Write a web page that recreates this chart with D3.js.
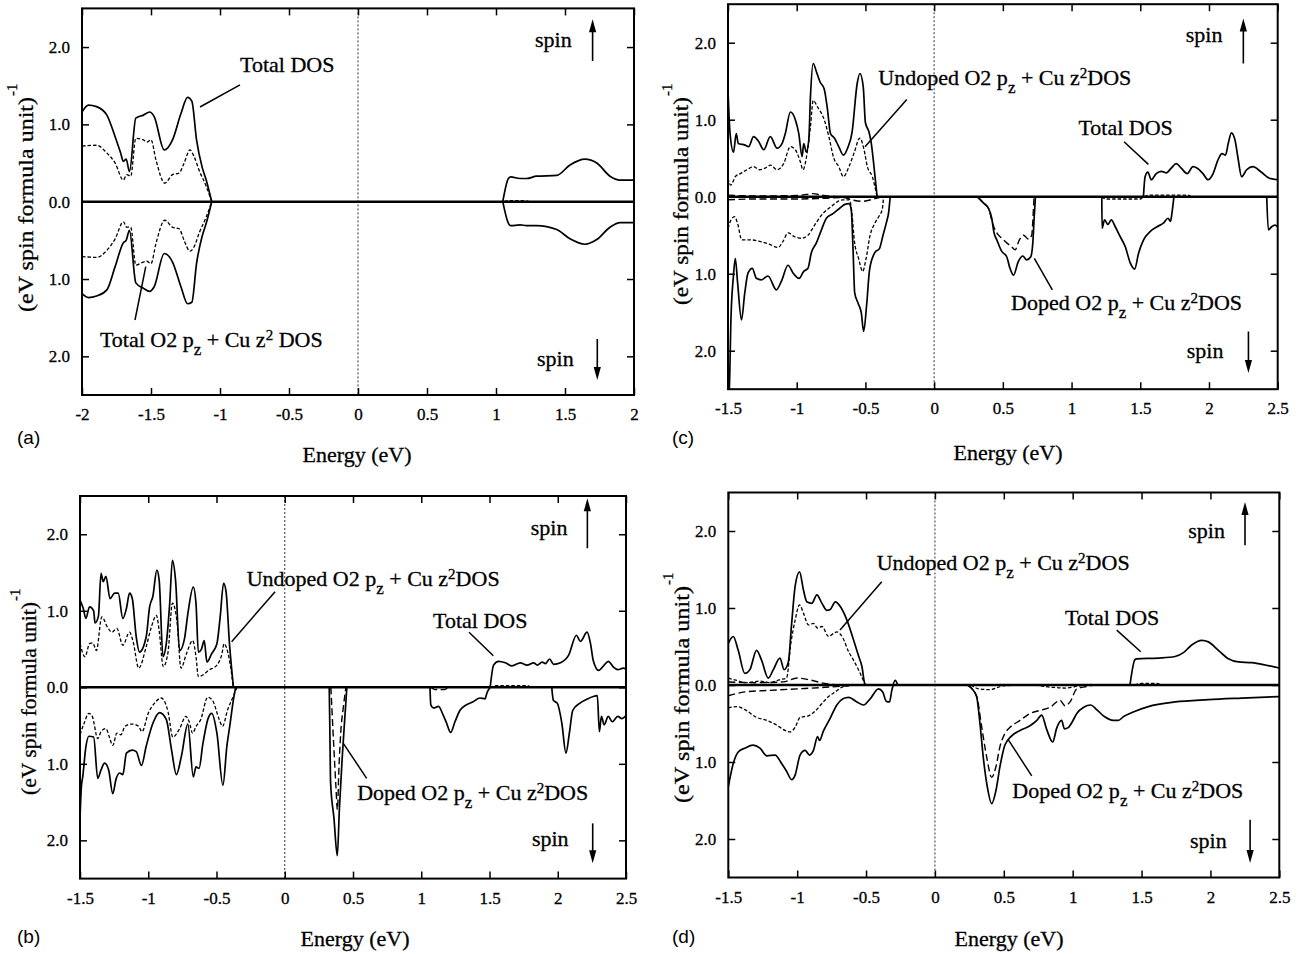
<!DOCTYPE html>
<html>
<head>
<meta charset="utf-8">
<script src="https://cdn.jsdelivr.net/npm/d3@7"></script>
<style>
  body { margin: 0; background: #fff; }
  svg { display: block; background: #fff; }
  text { fill: #000; stroke: #000; stroke-width: 0.3px; }
</style>
</head>
<body>
<svg id="fig" width="1305" height="954"></svg>
<script>
// ---------------- tick values and labels ----------------
const xTicksA = [-2, -1.5, -1, -0.5, 0, 0.5, 1, 1.5, 2];
const xLabelsA = ["-2", "-1.5", "-1", "-0.5", "0", "0.5", "1", "1.5", "2"];
const xTicksBCD = [-1.5, -1, -0.5, 0, 0.5, 1, 1.5, 2, 2.5];
const xLabelsBCD = ["-1.5", "-1", "-0.5", "0", "0.5", "1", "1.5", "2", "2.5"];
const yTickValues = [2, 1, 0, -1, -2];
const yTickLabels = ["2.0", "1.0", "0.0", "1.0", "2.0"];

// ---------------- (a) undoped: [energy eV, DOS] ----------------
const a_totalUp = [[-2.0,1.16],[-1.954,1.25],[-1.894,1.23],[-1.82,1.12],[-1.76,0.84],[-1.72,0.63],[-1.70,0.52],[-1.68,0.55],[-1.656,0.39],[-1.61,1.08],[-1.555,1.12],[-1.51,1.16],[-1.477,1.10],[-1.404,0.67],[-1.344,0.80],[-1.283,1.14],[-1.235,1.35],[-1.204,1.30],[-1.17,0.80],[-1.13,0.45],[-1.10,0.28],[-1.06,0]];
const a_totalDown = [[-2.0,1.19],[-1.954,1.24],[-1.894,1.22],[-1.82,1.14],[-1.76,0.84],[-1.70,0.53],[-1.68,0.50],[-1.656,0.37],[-1.61,1.05],[-1.555,1.12],[-1.51,1.16],[-1.477,1.10],[-1.404,0.67],[-1.344,0.78],[-1.283,1.10],[-1.235,1.32],[-1.204,1.30],[-1.17,0.80],[-1.13,0.45],[-1.10,0.28],[-1.06,0]];
const a_partialUp = [[-2.0,0.72],[-1.894,0.73],[-1.82,0.63],[-1.76,0.50],[-1.70,0.28],[-1.676,0.35],[-1.647,0.33],[-1.61,0.82],[-1.555,0.80],[-1.53,0.77],[-1.50,0.80],[-1.464,0.54],[-1.40,0.24],[-1.344,0.35],[-1.296,0.37],[-1.26,0.50],[-1.218,0.67],[-1.187,0.58],[-1.15,0.40],[-1.10,0.20],[-1.06,0]];
const a_partialDown = [[-2.0,0.71],[-1.894,0.72],[-1.82,0.63],[-1.76,0.48],[-1.70,0.26],[-1.676,0.33],[-1.647,0.33],[-1.61,0.82],[-1.555,0.78],[-1.53,0.77],[-1.50,0.80],[-1.464,0.54],[-1.40,0.24],[-1.344,0.33],[-1.296,0.35],[-1.26,0.50],[-1.218,0.64],[-1.187,0.58],[-1.15,0.40],[-1.10,0.20],[-1.06,0]];
const a_totalUpCond = [[1.049,0],[1.09,0.30],[1.107,0.32],[1.174,0.30],[1.222,0.30],[1.294,0.33],[1.44,0.34],[1.536,0.475],[1.645,0.55],[1.73,0.50],[1.826,0.33],[1.899,0.28],[2.0,0.28]];
const a_totalDownCond = [[1.049,0],[1.09,0.28],[1.107,0.31],[1.174,0.30],[1.222,0.31],[1.294,0.31],[1.44,0.36],[1.536,0.48],[1.645,0.55],[1.73,0.49],[1.826,0.33],[1.899,0.27],[2.0,0.27]];
const a_partialUpCond = [[1.06,0],[1.09,0.015],[1.2,0.015],[1.24,0]];

// ---------------- (b) ----------------
const b_totalUp = [[-1.5,1.14],[-1.476,1.03],[-1.457,0.90],[-1.43,1.05],[-1.40,1.00],[-1.39,0.84],[-1.365,0.93],[-1.346,1.49],[-1.33,1.38],[-1.31,1.45],[-1.28,1.16],[-1.246,1.23],[-1.22,1.23],[-1.186,0.90],[-1.16,1.03],[-1.137,1.23],[-1.117,1.16],[-1.088,0.66],[-1.064,0.46],[-1.015,0.66],[-0.99,1.05],[-0.966,1.19],[-0.937,1.53],[-0.92,1.40],[-0.892,0.40],[-0.868,0.57],[-0.843,1.09],[-0.823,1.66],[-0.80,1.40],[-0.77,0.48],[-0.734,0.64],[-0.71,0.96],[-0.67,1.31],[-0.65,1.09],[-0.633,0.46],[-0.61,0.50],[-0.59,0.61],[-0.57,0.33],[-0.535,0.44],[-0.497,0.57],[-0.473,0.92],[-0.448,1.36],[-0.43,1.25],[-0.405,0.57],[-0.376,0]];
const b_undopedUp = [[-1.5,0.57],[-1.463,0.40],[-1.43,0.57],[-1.406,0.58],[-1.38,0.48],[-1.34,0.92],[-1.30,0.79],[-1.266,0.72],[-1.23,0.77],[-1.186,0.55],[-1.137,0.72],[-1.11,0.59],[-1.07,0.25],[-1.015,0.53],[-0.98,0.77],[-0.94,0.94],[-0.92,0.74],[-0.89,0.27],[-0.855,0.46],[-0.823,1.10],[-0.79,0.87],[-0.76,0.25],[-0.72,0.44],[-0.675,0.61],[-0.65,0.40],[-0.633,0.14],[-0.60,0.16],[-0.56,0.22],[-0.497,0.29],[-0.46,0.44],[-0.445,0.57],[-0.41,0.40],[-0.376,0]];
const b_totalDown = [[-1.5,1.72],[-1.49,1.30],[-1.48,1.17],[-1.457,0.78],[-1.435,0.64],[-1.40,0.65],[-1.37,1.19],[-1.346,1.08],[-1.32,0.99],[-1.29,1.08],[-1.26,1.39],[-1.236,1.20],[-1.21,1.12],[-1.186,1.14],[-1.16,0.86],[-1.117,0.82],[-1.088,0.84],[-1.05,1.02],[-1.015,0.77],[-0.966,0.47],[-0.917,0.33],[-0.868,0.42],[-0.83,0.81],[-0.794,1.14],[-0.757,0.90],[-0.71,0.48],[-0.67,1.17],[-0.65,1.04],[-0.628,1.06],[-0.60,0.74],[-0.56,0.40],[-0.535,0.34],[-0.497,0.60],[-0.453,1.28],[-0.424,0.77],[-0.40,0.47],[-0.376,0.16],[-0.36,0]];
const b_undopedDown = [[-1.5,0.62],[-1.47,0.47],[-1.435,0.34],[-1.41,0.38],[-1.37,0.67],[-1.346,0.58],[-1.31,0.54],[-1.285,0.65],[-1.26,0.76],[-1.23,0.60],[-1.20,0.62],[-1.17,0.51],[-1.12,0.48],[-1.07,0.51],[-1.046,0.58],[-1.0,0.34],[-0.955,0.21],[-0.905,0.14],[-0.855,0.32],[-0.82,0.65],[-0.77,0.54],[-0.725,0.38],[-0.70,0.45],[-0.675,0.60],[-0.65,0.51],[-0.615,0.42],[-0.565,0.13],[-0.53,0.17],[-0.48,0.42],[-0.456,0.51],[-0.418,0.29],[-0.38,0.13],[-0.35,0]];
const b_totalDownGap = [[0.326,0],[0.33,0.5],[0.336,1.25],[0.36,1.7],[0.385,2.2],[0.40,1.6],[0.42,0.95],[0.44,0.4],[0.455,0]];
const b_dopedDownGap = [[0.338,0],[0.346,0.3],[0.36,0.8],[0.375,1.3],[0.386,1.6],[0.396,1.1],[0.41,0.6],[0.43,0.25],[0.448,0]];
const b_totalDownCond1 = [[1.064,0],[1.07,0.23],[1.09,0.27],[1.126,0.25],[1.16,0.36],[1.186,0.47],[1.215,0.59],[1.247,0.45],[1.284,0.30],[1.33,0.23],[1.38,0.19],[1.43,0.14],[1.468,0.15],[1.48,0.08],[1.505,0]];
const b_totalDownCond2 = [[1.956,0],[1.968,0.17],[1.997,0.21],[2.03,0.47],[2.06,0.86],[2.085,0.60],[2.11,0.30],[2.16,0.21],[2.21,0.16],[2.26,0.12],[2.29,0.11],[2.305,0.58],[2.32,0.38],[2.34,0.49],[2.37,0.38],[2.40,0.45],[2.44,0.38],[2.47,0.41],[2.5,0.37]];
const b_totalUpCond = [[1.505,0],[1.53,0.29],[1.567,0.34],[1.616,0.32],[1.665,0.28],[1.726,0.32],[1.775,0.29],[1.824,0.32],[1.85,0.29],[1.885,0.33],[1.91,0.31],[1.94,0.37],[1.97,0.30],[2.02,0.32],[2.08,0.42],[2.137,0.68],[2.166,0.60],[2.215,0.72],[2.24,0.57],[2.26,0.35],[2.30,0.22],[2.34,0.29],[2.37,0.34],[2.41,0.26],[2.44,0.23],[2.48,0.25],[2.5,0.24]];
const b_dopedDownCond = [[1.07,0],[1.10,0.03],[1.17,0.03],[1.20,0]];
const b_undopedUpCond = [[1.50,0],[1.55,0.02],[1.78,0.02],[1.80,0]];

// ---------------- (c) ----------------
const c_totalUp = [[-1.5,1.38],[-1.485,0.82],[-1.46,0.58],[-1.44,0.82],[-1.425,0.69],[-1.376,0.67],[-1.35,0.65],[-1.314,0.78],[-1.278,0.72],[-1.24,0.61],[-1.192,0.78],[-1.143,0.63],[-1.107,0.69],[-1.083,0.82],[-1.046,1.10],[-1.01,1.00],[-0.985,0.82],[-0.961,0.52],[-0.949,0.69],[-0.93,0.58],[-0.912,0.74],[-0.90,1.30],[-0.88,1.73],[-0.856,1.62],[-0.83,1.49],[-0.80,1.40],[-0.778,1.16],[-0.754,0.82],[-0.725,0.76],[-0.694,0.65],[-0.66,0.54],[-0.63,0.63],[-0.597,0.84],[-0.56,1.47],[-0.54,1.60],[-0.516,1.43],[-0.50,0.96],[-0.474,0.84],[-0.457,0.69],[-0.44,0.43],[-0.415,0]];
const c_undopedUp = [[-1.5,0.24],[-1.48,0.15],[-1.447,0.26],[-1.41,0.30],[-1.362,0.35],[-1.314,0.39],[-1.27,0.35],[-1.23,0.37],[-1.19,0.41],[-1.143,0.35],[-1.095,0.43],[-1.046,0.65],[-1.01,0.61],[-0.973,0.45],[-0.954,0.35],[-0.925,0.56],[-0.90,0.91],[-0.88,1.25],[-0.85,1.17],[-0.80,1.00],[-0.766,0.78],[-0.73,0.50],[-0.694,0.39],[-0.66,0.26],[-0.62,0.39],[-0.584,0.56],[-0.54,0.76],[-0.51,0.61],[-0.486,0.39],[-0.45,0.26],[-0.415,0]];
const c_dopedUp = [[-1.5,0.02],[-1.3,0.01],[-1.0,0.015],[-0.93,0.03],[-0.88,0.04],[-0.82,0.02],[-0.70,0]];
const c_totalDown = [[-1.5,2.7],[-1.49,2.48],[-1.478,1.56],[-1.461,1.04],[-1.447,0.80],[-1.43,1.12],[-1.402,1.60],[-1.378,1.25],[-1.354,0.99],[-1.323,0.93],[-1.294,1.06],[-1.257,1.08],[-1.209,1.03],[-1.148,1.21],[-1.112,1.10],[-1.063,0.89],[-1.027,0.99],[-0.983,1.06],[-0.949,0.97],[-0.918,0.93],[-0.894,0.73],[-0.857,0.60],[-0.82,0.43],[-0.784,0.28],[-0.736,0.22],[-0.687,0.15],[-0.65,0.10],[-0.62,0.09],[-0.603,0.17],[-0.59,0.69],[-0.578,1.25],[-0.554,1.38],[-0.53,1.51],[-0.513,1.75],[-0.49,1.38],[-0.47,0.95],[-0.433,0.73],[-0.397,0.67],[-0.372,0.50],[-0.348,0.34],[-0.33,0.19],[-0.32,0]];
const c_undopedDown = [[-1.5,0.41],[-1.478,0.30],[-1.452,0.26],[-1.43,0.35],[-1.40,0.56],[-1.34,0.56],[-1.27,0.58],[-1.196,0.62],[-1.136,0.66],[-1.10,0.58],[-1.063,0.47],[-1.015,0.52],[-0.966,0.54],[-0.918,0.50],[-0.87,0.37],[-0.81,0.22],[-0.75,0.13],[-0.70,0.06],[-0.664,0.04],[-0.616,0.04],[-0.597,0.24],[-0.58,0.58],[-0.55,0.80],[-0.52,0.97],[-0.495,0.80],[-0.466,0.50],[-0.433,0.35],[-0.397,0.24],[-0.378,0.17],[-0.368,0]];
const c_dopedDown = [[-1.5,0.04],[-1.3,0.03],[-1.0,0.03],[-0.8,0.02],[-0.66,0.01],[-0.60,0.04],[-0.52,0.06],[-0.44,0.03],[-0.38,0]];
const c_totalDownGap = [[0.314,0],[0.358,0.08],[0.395,0.15],[0.419,0.28],[0.436,0.47],[0.456,0.56],[0.492,0.71],[0.528,0.78],[0.552,0.93],[0.577,1.02],[0.613,0.84],[0.645,0.77],[0.674,0.82],[0.703,0.78],[0.718,0.60],[0.727,0.30],[0.737,0]];
const c_dopedDownGap = [[0.314,0],[0.358,0.08],[0.395,0.15],[0.43,0.37],[0.456,0.47],[0.492,0.54],[0.528,0.60],[0.564,0.65],[0.589,0.69],[0.62,0.56],[0.65,0.50],[0.686,0.55],[0.71,0.50],[0.72,0.25],[0.727,0]];
const c_totalDownCond1 = [[1.22,0],[1.222,0.41],[1.24,0.30],[1.264,0.36],[1.289,0.30],[1.318,0.39],[1.354,0.52],[1.391,0.65],[1.427,0.86],[1.459,0.94],[1.488,0.73],[1.524,0.56],[1.573,0.45],[1.622,0.39],[1.67,0.34],[1.702,0.28],[1.72,0.32],[1.73,0.22],[1.745,0]];
const c_totalDownCond2 = [[2.42,0],[2.432,0.43],[2.456,0.39],[2.48,0.37],[2.5,0.39]];
const c_totalUpCond = [[1.523,0],[1.535,0.26],[1.555,0.32],[1.58,0.22],[1.616,0.30],[1.652,0.33],[1.69,0.31],[1.725,0.37],[1.762,0.43],[1.798,0.37],[1.842,0.30],[1.883,0.39],[1.915,0.37],[1.956,0.30],[1.993,0.22],[2.03,0.30],[2.066,0.48],[2.095,0.56],[2.12,0.54],[2.14,0.69],[2.163,0.83],[2.19,0.73],[2.213,0.48],[2.237,0.26],[2.274,0.35],[2.32,0.39],[2.38,0.32],[2.44,0.24],[2.5,0.22]];
const c_undopedUpCond = [[1.53,0],[1.56,0.02],[1.85,0.02],[1.87,0]];
const c_undopedDownCond = [[1.22,0],[1.25,0.03],[1.50,0.03],[1.52,0]];

// ---------------- (d) ----------------
const d_totalUp = [[-1.5,0.54],[-1.464,0.63],[-1.428,0.45],[-1.38,0.15],[-1.343,0.20],[-1.295,0.45],[-1.258,0.32],[-1.21,0.09],[-1.173,0.20],[-1.125,0.35],[-1.095,0.20],[-1.064,0.30],[-1.04,0.80],[-1.015,1.28],[-0.983,1.47],[-0.954,1.23],[-0.93,1.08],[-0.894,1.06],[-0.857,1.17],[-0.82,1.06],[-0.784,0.97],[-0.76,0.98],[-0.723,1.08],[-0.687,1.02],[-0.638,0.84],[-0.59,0.58],[-0.553,0.37],[-0.53,0.24],[-0.51,0.02],[-0.505,0]];
const d_undopedUp = [[-1.5,0.09],[-1.44,0.06],[-1.37,0.03],[-1.27,0.05],[-1.20,0.03],[-1.125,0.07],[-1.077,0.09],[-1.046,0.54],[-1.015,0.84],[-0.983,1.04],[-0.954,0.93],[-0.918,0.78],[-0.882,0.80],[-0.852,0.74],[-0.82,0.76],[-0.772,0.63],[-0.736,0.67],[-0.712,0.69],[-0.668,0.61],[-0.626,0.43],[-0.59,0.32],[-0.547,0.17],[-0.51,0.02],[-0.505,0]];
const d_dopedUp = [[-1.5,0.04],[-1.3,0.03],[-1.1,0.04],[-1.0,0.09],[-0.92,0.07],[-0.8,0.02],[-0.7,0]];
const d_totalDown = [[-1.5,1.32],[-1.464,1.02],[-1.428,0.87],[-1.38,0.82],[-1.32,0.78],[-1.27,0.82],[-1.22,0.92],[-1.16,0.91],[-1.113,1.02],[-1.077,1.12],[-1.04,1.23],[-1.015,1.17],[-0.979,0.91],[-0.942,0.85],[-0.91,0.91],[-0.882,0.85],[-0.852,0.67],[-0.838,0.72],[-0.81,0.60],[-0.76,0.43],[-0.712,0.26],[-0.668,0.18],[-0.626,0.16],[-0.566,0.22],[-0.518,0.26],[-0.47,0.18],[-0.41,0.05],[-0.379,0.09],[-0.354,0.21],[-0.33,0.22],[-0.313,0.07],[-0.289,-0.06],[-0.27,0]];
const d_undopedDown = [[-1.5,0.30],[-1.44,0.28],[-1.38,0.32],[-1.295,0.42],[-1.22,0.46],[-1.15,0.52],[-1.088,0.59],[-1.052,0.61],[-1.015,0.55],[-0.979,0.42],[-0.918,0.40],[-0.87,0.34],[-0.82,0.24],[-0.772,0.15],[-0.724,0.09],[-0.664,0.02],[-0.615,0.01],[-0.60,0]];
const d_dopedDown = [[-1.5,0.14],[-1.38,0.09],[-1.2,0.07],[-1.0,0.05],[-0.8,0.03],[-0.65,0.01],[-0.6,0]];
const d_totalDownCond = [[0.235,0],[0.279,0.07],[0.303,0.15],[0.327,0.50],[0.351,0.94],[0.38,1.32],[0.412,1.54],[0.443,1.37],[0.472,1.06],[0.508,0.78],[0.557,0.66],[0.618,0.59],[0.69,0.53],[0.74,0.46],[0.775,0.39],[0.81,0.57],[0.855,0.74],[0.884,0.56],[0.92,0.46],[0.94,0.57],[0.97,0.55],[0.99,0.50],[1.03,0.37],[1.08,0.29],[1.13,0.26],[1.18,0.33],[1.23,0.41],[1.295,0.46],[1.331,0.46],[1.37,0.41],[1.44,0.35],[1.549,0.28],[1.743,0.22],[1.985,0.19],[2.227,0.17],[2.5,0.15]];
const d_dopedDownCond = [[0.235,0],[0.303,0.15],[0.34,0.55],[0.376,0.94],[0.412,1.20],[0.443,1.06],[0.472,0.80],[0.508,0.63],[0.545,0.55],[0.618,0.46],[0.69,0.37],[0.763,0.33],[0.836,0.29],[0.908,0.20],[0.945,0.27],[0.981,0.22],[1.03,0.05],[1.10,0.02],[1.15,0]];
const d_undopedDownCond = [[0.26,0],[0.32,0.05],[0.40,0.06],[0.50,0.01],[0.70,0],[0.85,0.03],[0.95,0.04],[1.05,0.01],[1.10,0]];
const d_totalUpCond = [[1.416,0],[1.452,0.33],[1.464,0.34],[1.622,0.35],[1.743,0.37],[1.804,0.42],[1.864,0.52],[1.937,0.58],[1.985,0.56],[2.058,0.45],[2.13,0.34],[2.203,0.30],[2.30,0.29],[2.397,0.26],[2.5,0.22]];
const d_undopedUpCond = [[1.45,0],[1.50,0.02],[1.60,0.02],[1.65,0]];

// ---------------- label texts ----------------
const txtTotal = [["Total DOS"]];
const txtTotalPartial = [["Total O2 p"], ["z", "sub"], [" + Cu z"], ["2", "sup"], [" DOS"]];
const txtUndoped = [["Undoped O2 p"], ["z", "sub"], [" + Cu z"], ["2", "sup"], ["DOS"]];
const txtDoped = [["Doped O2 p"], ["z", "sub"], [" + Cu z"], ["2", "sup"], ["DOS"]];

// ---------------- line styles ----------------
const styles = {
  solid: { w: 1.7, dash: null },
  short: { w: 1.3, dash: "3.5,2" },
  long:  { w: 1.4, dash: "7,3.5" }
};
const UP = 1, DOWN = -1;
const SERIF = "'Liberation Serif', 'Times New Roman', serif";
const SANS = "'Liberation Sans', Arial, sans-serif";

const panels = [
  {
    key: "a", tag: "(a)", box: { l: 82, r: 634, t: 8.4, b: 395 },
    xDomain: [-2, 2], xTicks: xTicksA, xLabels: xLabelsA,
    yTitle: { x: 33, y: 312, len: 215 }, xTitle: { x: 357, y: 462 }, tagPos: { x: 17, y: 444 },
    series: [
      { data: a_partialUp, spin: UP, style: "short" }, { data: a_partialDown, spin: DOWN, style: "short" },
      { data: a_partialUpCond, spin: UP, style: "short" },
      { data: a_totalUp, spin: UP, style: "solid" }, { data: a_totalDown, spin: DOWN, style: "solid" },
      { data: a_totalUpCond, spin: UP, style: "solid" }, { data: a_totalDownCond, spin: DOWN, style: "solid" }
    ],
    notes: [
      { parts: txtTotal, at: [-0.855, 1.68], lead: [[-0.855, 1.51], [-1.145, 1.225]] },
      { parts: txtTotalPartial, at: [-1.87, -1.88], lead: [[-1.616, -1.53], [-1.538, -0.84]] }
    ],
    spins: [
      { at: [1.283, 2.0], arrow: [1.70, 1.82, 2.36] },
      { at: [1.297, -2.125], arrow: [1.734, -1.776, -2.306] }
    ]
  },
  {
    key: "b", tag: "(b)", box: { l: 80, r: 626, t: 496, b: 878.6 },
    xDomain: [-1.5, 2.5], xTicks: xTicksBCD, xLabels: xLabelsBCD,
    yTitle: { x: 36, y: 795, len: 193 }, xTitle: { x: 355, y: 946 }, tagPos: { x: 17, y: 943 },
    series: [
      { data: b_undopedUp, spin: UP, style: "short" }, { data: b_undopedDown, spin: DOWN, style: "short" },
      { data: b_undopedUpCond, spin: UP, style: "short" },
      { data: b_dopedDownGap, spin: DOWN, style: "long" }, { data: b_dopedDownCond, spin: DOWN, style: "long" },
      { data: b_totalUp, spin: UP, style: "solid" }, { data: b_totalDown, spin: DOWN, style: "solid" },
      { data: b_totalDownGap, spin: DOWN, style: "solid" },
      { data: b_totalDownCond1, spin: DOWN, style: "solid" }, { data: b_totalDownCond2, spin: DOWN, style: "solid" },
      { data: b_totalUpCond, spin: UP, style: "solid" }
    ],
    notes: [
      { parts: txtUndoped, at: [-0.279, 1.324], lead: [[-0.071, 1.25], [-0.389, 0.596]] },
      { parts: txtTotal, at: [1.086, 0.775], lead: [[1.35, 0.72], [1.528, 0.413]] },
      { parts: txtDoped, at: [0.531, -1.473], lead: [[0.6, -1.19], [0.429, -0.732]] }
    ],
    spins: [
      { at: [1.802, 1.99], arrow: [2.217, 1.817, 2.47] },
      { at: [1.811, -2.08], arrow: [2.256, -1.778, -2.3] }
    ]
  },
  {
    key: "c", tag: "(c)", box: { l: 728, r: 1277.7, t: 4.2, b: 389.2 },
    xDomain: [-1.5, 2.5], xTicks: xTicksBCD, xLabels: xLabelsBCD,
    yTitle: { x: 688, y: 305, len: 208 }, xTitle: { x: 1008, y: 460 }, tagPos: { x: 672, y: 444 },
    series: [
      { data: c_undopedUp, spin: UP, style: "short" }, { data: c_undopedDown, spin: DOWN, style: "short" },
      { data: c_undopedUpCond, spin: UP, style: "short" }, { data: c_undopedDownCond, spin: DOWN, style: "short" },
      { data: c_dopedUp, spin: UP, style: "long" }, { data: c_dopedDown, spin: DOWN, style: "long" },
      { data: c_dopedDownGap, spin: DOWN, style: "long" },
      { data: c_totalUp, spin: UP, style: "solid" }, { data: c_totalDown, spin: DOWN, style: "solid" },
      { data: c_totalDownGap, spin: DOWN, style: "solid" },
      { data: c_totalDownCond1, spin: DOWN, style: "solid" }, { data: c_totalDownCond2, spin: DOWN, style: "solid" },
      { data: c_totalUpCond, spin: UP, style: "solid" }
    ],
    notes: [
      { parts: txtUndoped, at: [-0.406, 1.449], lead: [[-0.199, 1.263], [-0.503, 0.649]] },
      { parts: txtTotal, at: [1.05, 0.8], lead: [[1.382, 0.713], [1.559, 0.42]] },
      { parts: txtDoped, at: [0.56, -1.47], lead: [[0.86, -1.21], [0.729, -0.8]] }
    ],
    spins: [
      { at: [1.831, 2.01], arrow: [2.25, 1.73, 2.314] },
      { at: [1.838, -2.096], arrow: [2.287, -1.751, -2.29] }
    ]
  },
  {
    key: "d", tag: "(d)", box: { l: 728.3, r: 1279.3, t: 492.5, b: 877.5 },
    xDomain: [-1.5, 2.5], xTicks: xTicksBCD, xLabels: xLabelsBCD,
    yTitle: { x: 689, y: 803, len: 217 }, xTitle: { x: 1009, y: 946 }, tagPos: { x: 672, y: 943 },
    series: [
      { data: d_undopedUp, spin: UP, style: "short" }, { data: d_undopedDown, spin: DOWN, style: "short" },
      { data: d_undopedDownCond, spin: DOWN, style: "short" }, { data: d_undopedUpCond, spin: UP, style: "short" },
      { data: d_dopedUp, spin: UP, style: "long" }, { data: d_dopedDown, spin: DOWN, style: "long" },
      { data: d_dopedDownCond, spin: DOWN, style: "long" },
      { data: d_totalUp, spin: UP, style: "solid" }, { data: d_totalDown, spin: DOWN, style: "solid" },
      { data: d_totalDownCond, spin: DOWN, style: "solid" }, { data: d_totalUpCond, spin: UP, style: "solid" }
    ],
    notes: [
      { parts: txtUndoped, at: [-0.423, 1.49], lead: [[-0.386, 1.34], [-0.689, 0.713]] },
      { parts: txtTotal, at: [0.944, 0.778], lead: [[1.32, 0.713], [1.494, 0.432]] },
      { parts: txtDoped, at: [0.562, -1.47], lead: [[0.703, -1.18], [0.533, -0.713]] }
    ],
    spins: [
      { at: [1.839, 1.903], arrow: [2.251, 1.816, 2.377] },
      { at: [1.852, -2.118], arrow: [2.288, -1.751, -2.313] }
    ]
  }
];

const svg = d3.select("#fig");
const defs = svg.append("defs");

// text with subscript / superscript pieces
function richText(g, px, py, parts) {
  const t = g.append("text").attr("x", px).attr("y", py)
    .style("font-family", SERIF).style("font-size", "22px").style("white-space", "pre");
  let shift = 0;
  parts.forEach(([s, kind]) => {
    const target = kind === "sub" ? 8 : kind === "sup" ? -7 : 0;
    t.append("tspan")
      .attr("dy", target - shift)
      .style("font-size", (kind === "sub" ? 17 : kind === "sup" ? 15 : 22) + "px")
      .text(s);
    shift = target;
  });
}

function drawPanel(p) {
  const g = svg.append("g").attr("class", "panel-" + p.key);
  const x = d3.scaleLinear().domain(p.xDomain).range([p.box.l, p.box.r]);
  const y = d3.scaleLinear().domain([-2.5, 2.5]).range([p.box.b, p.box.t]);

  const clipId = "clip-" + p.key;
  defs.append("clipPath").attr("id", clipId).append("rect")
    .attr("x", p.box.l).attr("y", p.box.t)
    .attr("width", p.box.r - p.box.l).attr("height", p.box.b - p.box.t);

  // Fermi level
  g.append("line")
    .attr("x1", x(0)).attr("x2", x(0)).attr("y1", p.box.t).attr("y2", p.box.b)
    .attr("stroke", "#333").attr("stroke-width", 1).attr("stroke-dasharray", "2,2");

  // DOS curves (spin down drawn below zero)
  const curves = g.append("g").attr("clip-path", `url(#${clipId})`);
  p.series.forEach(s => {
    const line = d3.line()
      .x(d => x(d[0]))
      .y(d => y(s.spin * d[1]))
      .curve(d3.curveMonotoneX);
    const st = styles[s.style];
    curves.append("path")
      .attr("d", line(s.data))
      .attr("fill", "none").attr("stroke", "#000")
      .attr("stroke-width", st.w)
      .attr("stroke-linejoin", "round")
      .attr("stroke-dasharray", st.dash);
  });

  // zero DOS line
  g.append("line")
    .attr("x1", p.box.l).attr("x2", p.box.r).attr("y1", y(0)).attr("y2", y(0))
    .attr("stroke", "#000").attr("stroke-width", 2.6);

  // axes with inward ticks on all four sides
  const styleAxis = sel => {
    sel.select(".domain").remove();
    sel.selectAll(".tick line").attr("stroke", "#000").attr("stroke-width", 1.5);
    sel.selectAll(".tick text")
      .style("font-family", SERIF).style("font-size", "17px").attr("fill", "#000");
  };
  g.append("g").attr("transform", `translate(0,${p.box.b})`)
    .call(d3.axisBottom(x).tickValues(p.xTicks)
      .tickFormat((d, i) => p.xLabels[i]).tickSizeInner(-7).tickSizeOuter(0).tickPadding(13))
    .call(styleAxis);
  g.append("g").attr("transform", `translate(0,${p.box.t})`)
    .call(d3.axisTop(x).tickValues(p.xTicks).tickFormat("").tickSizeInner(-7).tickSizeOuter(0))
    .call(styleAxis);
  g.append("g").attr("transform", `translate(${p.box.l},0)`)
    .call(d3.axisLeft(y).tickValues(yTickValues)
      .tickFormat((d, i) => yTickLabels[i]).tickSizeInner(-7).tickSizeOuter(0).tickPadding(12))
    .call(styleAxis);
  g.append("g").attr("transform", `translate(${p.box.r},0)`)
    .call(d3.axisRight(y).tickValues(yTickValues).tickFormat("").tickSizeInner(-7).tickSizeOuter(0))
    .call(styleAxis);

  // frame
  g.append("rect")
    .attr("x", p.box.l).attr("y", p.box.t)
    .attr("width", p.box.r - p.box.l).attr("height", p.box.b - p.box.t)
    .attr("fill", "none").attr("stroke", "#000").attr("stroke-width", 2);

  // axis titles
  g.append("text").attr("x", p.xTitle.x).attr("y", p.xTitle.y)
    .attr("text-anchor", "middle")
    .style("font-family", SERIF).style("font-size", "22px").text("Energy (eV)");
  g.append("text")
    .attr("transform", `translate(${p.yTitle.x},${p.yTitle.y}) rotate(-90)`)
    .style("font-family", SERIF).style("font-size", "22px")
    .attr("textLength", p.yTitle.len).attr("lengthAdjust", "spacingAndGlyphs")
    .text("(eV spin formula unit)");
  g.append("text")
    .attr("transform", `translate(${p.yTitle.x - 16},${p.yTitle.y - p.yTitle.len - 1}) rotate(-90)`)
    .style("font-family", SERIF).style("font-size", "15px").text("-1");

  // panel tag
  g.append("text").attr("x", p.tagPos.x).attr("y", p.tagPos.y)
    .style("font-family", SANS).style("font-size", "19px").style("stroke-width", "0px")
    .text(p.tag);

  // curve annotations with leader lines
  p.notes.forEach(n => {
    richText(g, x(n.at[0]), y(n.at[1]), n.parts);
    g.append("line")
      .attr("x1", x(n.lead[0][0])).attr("y1", y(n.lead[0][1]))
      .attr("x2", x(n.lead[1][0])).attr("y2", y(n.lead[1][1]))
      .attr("stroke", "#000").attr("stroke-width", 1.5);
  });

  // spin direction markers
  p.spins.forEach(s => {
    g.append("text").attr("x", x(s.at[0])).attr("y", y(s.at[1]))
      .style("font-family", SERIF).style("font-size", "22px").text("spin");
    const ax = x(s.arrow[0]), y0 = y(s.arrow[1]), y1 = y(s.arrow[2]);
    const dir = Math.sign(y1 - y0), head = 13, half = 3.6;
    g.append("line").attr("x1", ax).attr("x2", ax).attr("y1", y0).attr("y2", y1 - dir * head * 0.7)
      .attr("stroke", "#000").attr("stroke-width", 1.6);
    g.append("path")
      .attr("d", `M${ax},${y1} L${ax - half},${y1 - dir * head} L${ax + half},${y1 - dir * head} Z`)
      .attr("fill", "#000");
  });
}

panels.forEach(drawPanel);
</script>
</body>
</html>
